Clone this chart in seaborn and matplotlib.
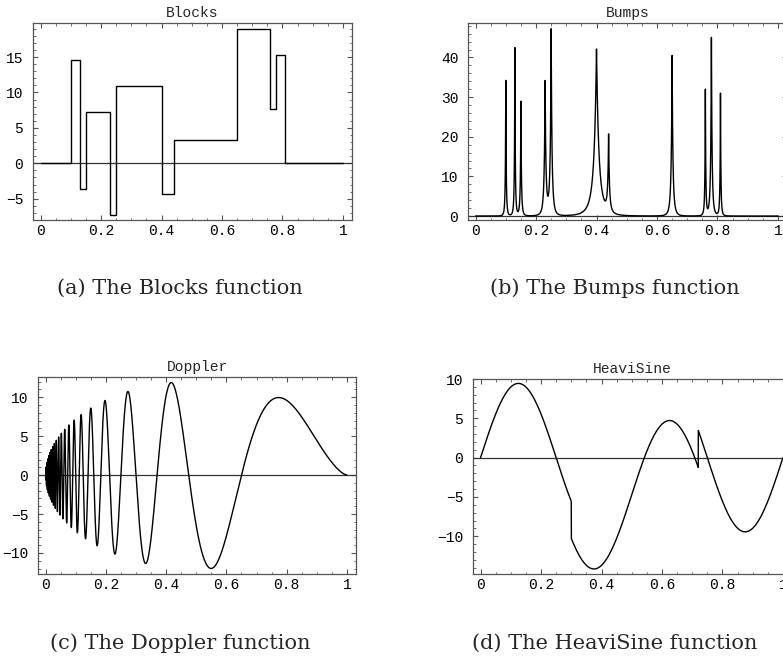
import numpy as np
import matplotlib
matplotlib.use("Agg")
import matplotlib.pyplot as plt
import seaborn as sns
from matplotlib.ticker import MultipleLocator

# jump / bump locations shared by Blocks and Bumps
jump_pos = [0.10, 0.13, 0.15, 0.23, 0.25, 0.40, 0.44, 0.65, 0.76, 0.78, 0.81]

# Blocks: level of each piece
blocks_levels = [0, 14.6, -3.65, 7.3, -7.3, 10.95, -4.38, 3.29, 18.98, 7.67, 15.33, 0]

# Bumps: amplitude and width of every bump
bumps_amp = [34.2, 42.4, 28.9, 33.6, 46.8, 42.1, 19.3, 40.5, 31.7, 45.0, 30.9]
bumps_width = [0.005, 0.005, 0.006, 0.01, 0.01, 0.03, 0.01, 0.01, 0.005, 0.008, 0.005]

# Doppler and HeaviSine parameters
doppler_amp = 24.1
doppler_eps = 0.05
heavisine_amp = 2.36
heavisine_jumps = [0.3, 0.72]

titles = ["Blocks", "Bumps", "Doppler", "HeaviSine"]
captions = ["(a) The Blocks function", "(b) The Bumps function",
            "(c) The Doppler function", "(d) The HeaviSine function"]

# --- curves ---
bx = [0.0]
by = [blocks_levels[0]]
for t, lo, hi in zip(jump_pos, blocks_levels[:-1], blocks_levels[1:]):
    bx += [t, t]
    by += [lo, hi]
bx.append(1.0)
by.append(blocks_levels[-1])

ux = np.sort(np.concatenate([np.linspace(0, 1, 6000), jump_pos]))
uy = np.zeros_like(ux)
for t, a, w in zip(jump_pos, bumps_amp, bumps_width):
    uy += a * (1 + np.abs((ux - t) / w)) ** -4

dx = np.linspace(0, 1, 30000)
dy = doppler_amp * np.sqrt(dx * (1 - dx)) * np.sin(2 * np.pi * (1 + doppler_eps) / (dx + doppler_eps))

hx = np.linspace(0, 1, 6000)
hy = heavisine_amp * (4 * np.sin(4 * np.pi * hx) - np.sign(hx - heavisine_jumps[0])
                      - np.sign(heavisine_jumps[1] - hx))

curves = [(bx, by), (ux, uy), (dx, dy), (hx, hy)]

sns.set_theme(style="white")
plt.rcParams["font.family"] = ["Liberation Mono", "DejaVu Sans"]

W, H = 783, 661
fig = plt.figure(figsize=(W / 100, H / 100), dpi=100)

# axes boxes in pixels: left, top, width, height
boxes = [(33, 23, 319, 197), (468, 23, 319, 197),
         (38, 377, 318, 197), (473, 379, 319, 195)]
ylims = [(-8, 19.8), (-1, 48.7), (-12.7, 12.6), (-14.8, 10.0)]
ymajor = [5, 10, 5, 5]
cap_pos = [(180, 288), (615, 288), (180, 643), (615, 643)]

frame_col = "#555555"
for i in range(4):
    l, t, w, h = boxes[i]
    ax = fig.add_axes([l / W, 1 - (t + h) / H, w / W, h / H])
    ax.axhline(0, color="#333333", lw=0.9, zorder=1)
    x, y = curves[i]
    sns.lineplot(x=x, y=y, ax=ax, color="black", lw=1.0, sort=False,
                 estimator=None, zorder=2)
    ax.set_xlim(-0.025, 1.03)
    ax.set_ylim(*ylims[i])
    ax.xaxis.set_major_locator(MultipleLocator(0.2))
    ax.xaxis.set_minor_locator(MultipleLocator(0.05))
    ax.yaxis.set_major_locator(MultipleLocator(ymajor[i]))
    ax.yaxis.set_minor_locator(MultipleLocator(ymajor[i] / 5))
    ax.xaxis.set_major_formatter(plt.FuncFormatter(
        lambda v, p: "0" if abs(v) < 1e-9 else ("1" if abs(v - 1) < 1e-9 else f"{v:.1f}")))
    ax.tick_params(which="both", direction="in", top=True, right=True,
                   bottom=True, left=True, color=frame_col, labelsize=10.5,
                   labelcolor="black")
    ax.tick_params(which="major", length=3.5, width=0.8)
    ax.tick_params(which="minor", length=1.8, width=0.6)
    ax.tick_params(axis="x", pad=3)
    ax.tick_params(axis="y", pad=7)
    for s in ax.spines.values():
        s.set_color(frame_col)
        s.set_linewidth(0.9)
    ax.set_xlabel("")
    ax.set_ylabel("")
    ax.set_title(titles[i], fontsize=10.5, pad=4, family=["Liberation Mono"])
    cx, cy = cap_pos[i]
    fig.text(cx / W, 1 - cy / H, captions[i], ha="center", va="center",
             fontsize=15, family=["DejaVu Serif"])

fig.savefig("out.png", dpi=100)
